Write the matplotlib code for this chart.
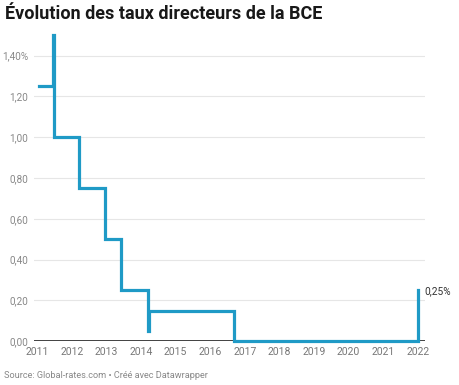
import matplotlib
matplotlib.use('Agg')
import matplotlib.pyplot as plt

# ECB rate changes (decimal year, rate in %), drawn as a post step
years = [2011.05, 2011.45, 2011.49, 2012.22, 2012.97, 2013.42, 2014.2, 2014.24, 2016.7, 2022.0]
rates = [1.25, 1.50, 1.00, 0.75, 0.50, 0.25, 0.05, 0.15, 0.00, 0.25]

tick_years = list(range(2011, 2023))
y_ticks = [0.0, 0.2, 0.4, 0.6, 0.8, 1.0, 1.2, 1.4]
y_labels = ['0,00', '0,20', '0,40', '0,60', '0,80', '1,00', '1,20', '1,40%']

plt.rcParams['font.family'] = ['Roboto', 'DejaVu Sans']

fig = plt.figure(figsize=(4.6, 3.85), dpi=100)
ax = fig.add_axes([0.074, 0.114, 0.85, 0.805])

# grid lines and baseline
for t in y_ticks[1:]:
	ax.axhline(t, color='#e6e6e6', linewidth=0.8, zorder=0)
ax.axhline(0, color='#333333', linewidth=1.3, zorder=1)

ax.plot(years, rates, drawstyle='steps-post', color='#1f9ac6', linewidth=2.3,
	solid_joinstyle='miter', zorder=2, clip_on=False)

# end label
ax.annotate('0,25%', xy=(years[-1], rates[-1]), xytext=(5, -1), textcoords='offset points',
	ha='left', va='center', fontsize=7.3, color='#333333')

ax.set_xlim(2010.91, 2022.21)
ax.set_ylim(0, 1.52)
ax.set_xticks(tick_years)
ax.set_xticklabels([str(y) for y in tick_years], fontsize=7.5, color='#777777')
ax.set_yticks(y_ticks)
ax.set_yticklabels(y_labels, fontsize=7.2, color='#888888')
ax.tick_params(length=0, pad=4)
ax.tick_params(axis='y', pad=4)
for s in ax.spines.values():
	s.set_visible(False)

fig.text(0.011, 0.963, 'Évolution des taux directeurs de la BCE', fontsize=13,
	fontweight='bold', color='#181818', ha='left', va='center')
fig.text(0.008, 0.025, 'Source: Global-rates.com • Créé avec Datawrapper', fontsize=6.6,
	color='#888888', ha='left', va='center')

fig.savefig('out.png', dpi=100)
